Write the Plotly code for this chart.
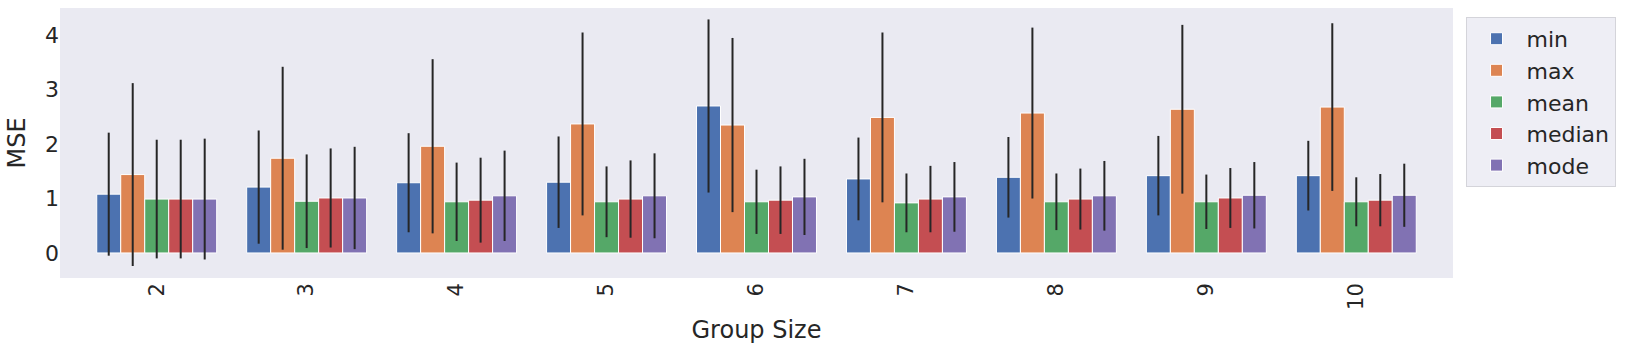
import plotly.graph_objects as go

# -------------------------
# Data
# -------------------------
group_sizes = ["2", "3", "4", "5", "6", "7", "8", "9", "10"]

min_vals = [1.08, 1.21, 1.29, 1.30, 2.70, 1.36, 1.39, 1.42, 1.42]
min_std = [1.13, 1.04, 0.91, 0.84, 1.59, 0.76, 0.74, 0.73, 0.64]

max_vals = [1.44, 1.74, 1.96, 2.37, 2.35, 2.49, 2.57, 2.64, 2.68]
max_std = [1.68, 1.68, 1.60, 1.68, 1.60, 1.56, 1.57, 1.55, 1.54]

mean_vals = [0.99, 0.95, 0.94, 0.94, 0.94, 0.92, 0.94, 0.94, 0.94]
mean_std = [1.09, 0.86, 0.72, 0.65, 0.59, 0.54, 0.52, 0.50, 0.45]

median_vals = [0.99, 1.01, 0.97, 0.99, 0.97, 0.99, 0.99, 1.01, 0.97]
median_std = [1.09, 0.91, 0.78, 0.71, 0.62, 0.61, 0.56, 0.55, 0.48]

mode_vals = [0.99, 1.01, 1.05, 1.05, 1.03, 1.03, 1.05, 1.06, 1.06]
mode_std = [1.11, 0.94, 0.83, 0.78, 0.70, 0.64, 0.64, 0.61, 0.58]

series = [
    ("min", min_vals, min_std, "#4C72B0"),
    ("max", max_vals, max_std, "#DD8452"),
    ("mean", mean_vals, mean_std, "#55A868"),
    ("median", median_vals, median_std, "#C44E52"),
    ("mode", mode_vals, mode_std, "#8172B3"),
]

font_family = "DejaVu Sans"
text_color = "#262626"

fig = go.Figure()

for name, vals, std, color in series:
    fig.add_trace(go.Bar(
        x=group_sizes,
        y=vals,
        name=name,
        marker=dict(color=color, line=dict(color="white", width=1)),
        error_y=dict(type="data", array=std, visible=True,
                     color="#262626", thickness=2, width=0),
    ))

# -------------------------
# Layout
# -------------------------
fig.update_layout(
    width=1633,
    height=351,
    barmode="group",
    bargap=0.2,
    bargroupgap=0,
    plot_bgcolor="#EAEAF2",
    paper_bgcolor="white",
    margin=dict(l=60, r=180, t=8, b=73),
    font=dict(family=font_family, size=22, color=text_color),
    xaxis=dict(
        type="category",
        range=[-0.645, 8.645],
        tickangle=-90,
        showgrid=False,
        zeroline=False,
        ticks="",
        title=dict(text="Group Size", font=dict(size=24), standoff=12),
        tickfont=dict(size=21),
    ),
    yaxis=dict(
        range=[-0.46, 4.5],
        tickvals=[0, 1, 2, 3, 4],
        showgrid=False,
        zeroline=False,
        ticks="",
        title=dict(text="MSE", font=dict(size=24), standoff=12),
        tickfont=dict(size=22),
    ),
    legend=dict(
        x=1.009, y=0.967,
        xanchor="left", yanchor="top",
        bgcolor="#EEEEF5",
        bordercolor="#d4d4da",
        borderwidth=1,
        font=dict(size=22),
        itemwidth=50,
        tracegroupgap=0,
    ),
)

# the page body has a default 8px margin; drop it so the figure sits at 0,0
fig.write_html("out.html", config={"displayModeBar": False},
               post_script="document.body.style.margin='0px';")
